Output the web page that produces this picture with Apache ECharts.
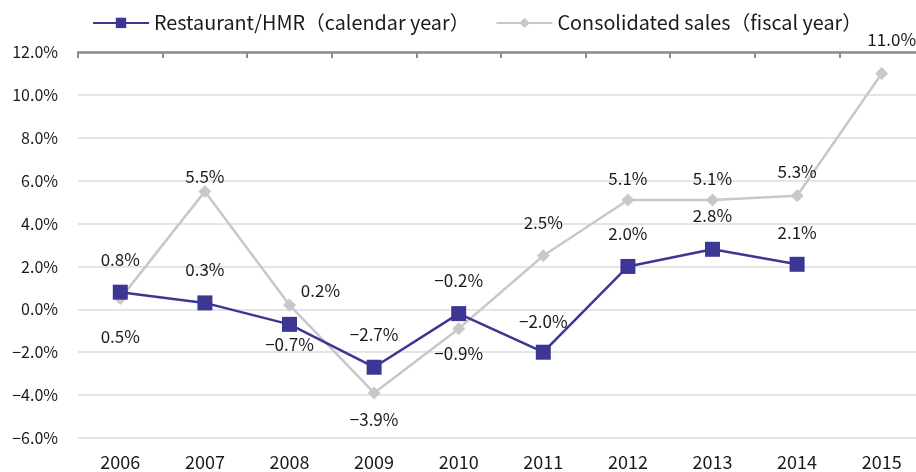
<!DOCTYPE html>
<html><head><meta charset="utf-8">
<script src="https://cdn.jsdelivr.net/npm/echarts@6/dist/echarts.min.js"></script>
<style>html,body{margin:0;padding:0;background:#fff;overflow:hidden}#c{width:924px;height:472px}</style>
</head><body><div id="c"></div>
<script>
var years = ['2006','2007','2008','2009','2010','2011','2012','2013','2014','2015'];
var restaurant = [0.8, 0.3, -0.7, -2.7, -0.2, -2.0, 2.0, 2.8, 2.1, null];
var consolidated = [0.5, 5.5, 0.2, -3.9, -0.9, 2.5, 5.1, 5.1, 5.3, 11.0];
var yTicks = [-6, -4, -2, 0, 2, 4, 6, 8, 10, 12];
var nameR = 'Restaurant/HMR（calendar year）';
var nameC = 'Consolidated sales（fiscal year）';

// label offsets (style)
var offR = [[0,-33],[0,-33],[0,20],[0,-33],[0,-33],[0,-31],[0,-33],[0,-34],[0,-32],[0,0]];
var offC = [[0,38],[0,-15],[31,-14],[0,27],[0,25],[0,-33],[0,-21],[0,-21],[0,-24],[10,-34]];

var FONT = '"Noto Sans CJK JP", "Noto Sans", sans-serif';
function fmt(v){ return (v < 0 ? '\u2212' + Math.abs(v).toFixed(1) : v.toFixed(1)) + '%'; }

function build(vals, offs){
  return vals.map(function(v,i){
    if (v === null) return null;
    return {value: v, label: {show: true, position: 'inside', offset: offs[i],
      formatter: function(p){ return fmt(p.value); }}};
  });
}

var chart = echarts.init(document.getElementById('c'), null, {renderer: 'canvas'});
chart.setOption({
  animation: false,
  textStyle: {fontFamily: FONT},
  legend: {
    top: 8, left: 87, itemGap: 26, itemWidth: 56, itemHeight: 13,
    textStyle: {fontSize: 19.8, color: '#1a1a1a', fontFamily: FONT},
    data: [nameR, nameC]
  },
  grid: {left: 78, top: 52, right: 0, height: 386, containLabel: false},
  xAxis: [{
    type: 'category', data: years, position: 'bottom',
    axisLine: {show: false}, axisTick: {show: false},
    axisLabel: {fontSize: 18, color: '#1a1a1a', margin: 15, fontFamily: FONT}
  },{
    type: 'category', data: years, position: 'top',
    axisLine: {show: true, onZero: true, lineStyle: {color: '#8c8c8c', width: 2.5}},
    axisTick: {show: true, inside: true, length: 6, lineStyle: {color: '#8c8c8c', width: 2}},
    axisLabel: {show: false}
  }],
  yAxis: {
    type: 'value', min: yTicks[0], max: yTicks[yTicks.length-1], interval: 2,
    axisLine: {show: false}, axisTick: {show: false},
    splitLine: {lineStyle: {color: '#dcdcdc', width: 1.5}},
    axisLabel: {fontSize: 16, color: '#1a1a1a', margin: 20, fontFamily: FONT,
      formatter: function(v){ return fmt(v); }}
  },
  series: [{
    name: nameR, type: 'line', xAxisIndex: 0, data: build(restaurant, offR),
    symbol: 'rect', symbolSize: 15,
    itemStyle: {color: '#3c3794'}, lineStyle: {color: '#3c3794', width: 2.5},
    label: {fontSize: 17, color: '#1a1a1a', fontFamily: FONT},
    z: 3
  },{
    name: nameC, type: 'line', xAxisIndex: 0, data: build(consolidated, offC),
    symbol: 'diamond', symbolSize: 13,
    itemStyle: {color: '#c8c8c8'}, lineStyle: {color: '#c8c8c8', width: 2.5},
    label: {fontSize: 17, color: '#1a1a1a', fontFamily: FONT},
    z: 2
  }]
});
</script></body></html>
